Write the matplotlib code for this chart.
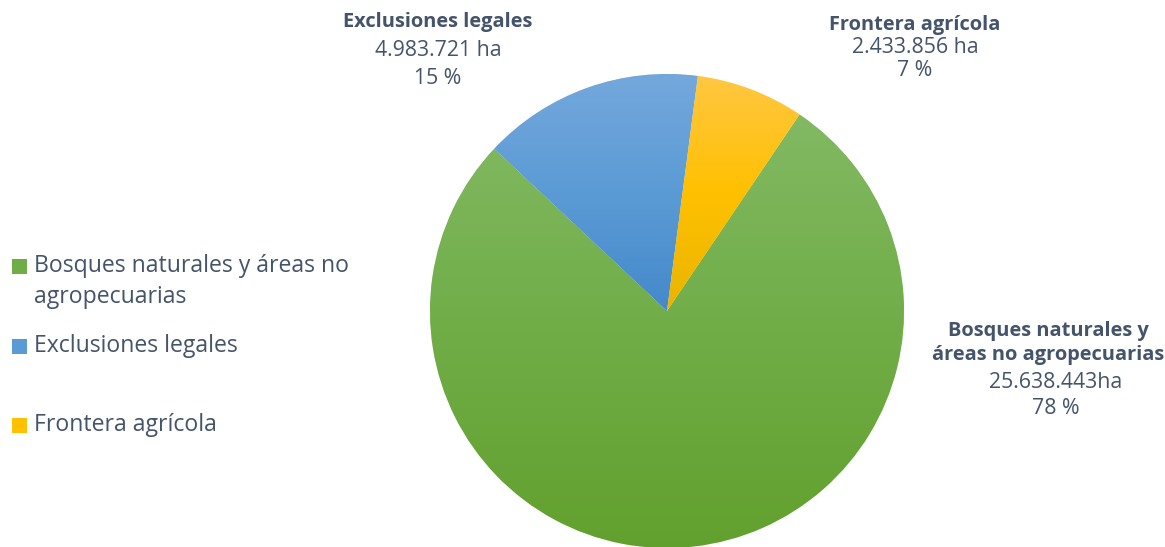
import matplotlib
matplotlib.use("Agg")
import matplotlib.pyplot as plt
import numpy as np
from matplotlib.colors import to_rgb
from matplotlib.patches import Rectangle

categories = ["Bosques naturales y áreas no agropecuarias", "Exclusiones legales", "Frontera agrícola"]
values_ha = [25638443, 4983721, 2433856]
value_labels = ["25.638.443ha", "4.983.721 ha", "2.433.856 ha"]
pct_labels = ["78 %", "15 %", "7 %"]

# gradient stops per slice: top, middle, bottom
grad = [("#82b963", "#70ad47", "#62a02e"),
        ("#74a8dc", "#5b9bd5", "#4589cb"),
        ("#ffc742", "#ffc000", "#e9b500")]

TXT = "#44546A"
FONT = ["Open Sans", "DejaVu Sans"]
plt.rcParams["font.family"] = FONT

W, H = 1165, 547
fig = plt.figure(figsize=(W / 100, H / 100), dpi=100)

cx, cy, r = 667, 311, 237
ax = fig.add_axes([(cx - r) / W, (H - cy - r) / H, 2 * r / W, 2 * r / H])
wedges, _ = ax.pie(values_ha, startangle=56, counterclock=False, radius=1,
                   colors=[g[1] for g in grad],
                   wedgeprops=dict(edgecolor="white", linewidth=0.4))
ax.set_xlim(-1, 1)
ax.set_ylim(-1, 1)
ax.set_aspect("equal")
ax.axis("off")


def grad_img(stops, n=256):
    t = np.linspace(0, 1, n)
    c0, c1, c2 = [np.array(to_rgb(s)) for s in stops]
    rows = []
    for v in t:
        if v < 0.5:
            rows.append(c0 + (c1 - c0) * v / 0.5)
        else:
            rows.append(c1 + (c2 - c1) * (v - 0.5) / 0.5)
    return np.array(rows)[:, None, :]


for w, g in zip(wedges, grad):
    ext = w.get_path().get_extents()
    im = ax.imshow(grad_img(g), extent=(ext.x0, ext.x1, ext.y0, ext.y1),
                   origin="upper", aspect="auto", zorder=w.get_zorder() + 0.1,
                   interpolation="bilinear")
    im.set_clip_path(w)
ax.set_xlim(-1, 1)
ax.set_ylim(-1, 1)

LS = 15.3
LB = 14.4


def ft(x, y, s, **kw):
    fig.text(x / W, 1 - y / H, s, color=TXT, ha="center", va="center", **kw)


# data labels
ft(438, 22, "Exclusiones legales", fontsize=LB, fontweight="bold")
ft(438, 51, value_labels[1], fontsize=LS)
ft(438, 79, pct_labels[1], fontsize=LS)

ft(915, 25, "Frontera agrícola", fontsize=LB, fontweight="bold")
ft(915, 48, value_labels[2], fontsize=LS)
ft(915, 70, pct_labels[2], fontsize=LS)

ft(1048, 331, "Bosques naturales y", fontsize=LB, fontweight="bold")
ft(1048, 355, "áreas no agropecuarias", fontsize=LB, fontweight="bold")
ft(1056, 383, value_labels[0], fontsize=LS)
ft(1056, 408, pct_labels[0], fontsize=LS)

# legend
leg_items = [(266, ["Bosques naturales y áreas no", "agropecuarias"]),
             (346, [categories[1]]),
             (425, [categories[2]])]
for (y, lines), g in zip(leg_items, grad):
    sq = Rectangle((12 / W, 1 - (y + 8) / H), 15 / W, 15 / H, transform=fig.transFigure,
                   facecolor=g[1], edgecolor="none")
    fig.patches.append(sq)
    for i, line in enumerate(lines):
        fig.text(34 / W, 1 - (y + i * 31) / H, line, color=TXT, ha="left", va="center",
                 fontsize=16.6)

fig.savefig("out.png", dpi=100)
